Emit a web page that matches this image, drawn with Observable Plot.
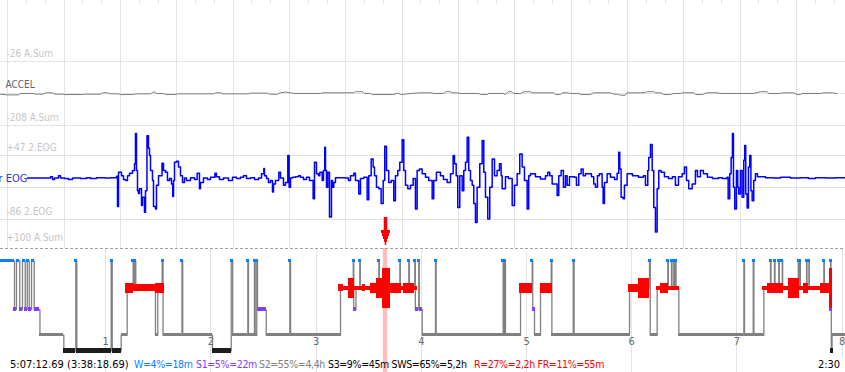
<!DOCTYPE html>
<html><head><meta charset="utf-8">
<script src="https://cdn.jsdelivr.net/npm/d3@7"></script>
<script src="https://cdn.jsdelivr.net/npm/@observablehq/plot@0.6"></script>
<style>
html,body{margin:0;padding:0;background:#fff;}
#root{position:relative;width:845px;height:372px;overflow:hidden;background:#fff;}
#root .layer{position:absolute;left:0;}
#root svg{display:block;overflow:visible;}
.st{position:absolute;top:357px;height:15px;line-height:15px;font-family:"DejaVu Sans Condensed","DejaVu Sans",sans-serif;font-stretch:condensed;font-size:10.5px;letter-spacing:-0.35px;white-space:pre;}
.st.first{font-size:11px;letter-spacing:0;}
</style></head><body><div id="root"></div><script>
// ---------------- data ----------------
const windowStart = {h: 3, m: 38, s: 18.69};   // start of displayed signal window
const windowSeconds = 150;                      // 2:30 window
const recordingHours = 8.032;                   // hypnogram span
const windowLabel = "2:30";

// ACCEL trace: [seconds into window, A.Sum]
const accel = [[0,-119],[1.2,-121],[3.2,-121],[3.6,-117],[5.9,-117],[6.2,-119],[7.5,-119],[8.0,-115],[9.2,-115],[9.6,-119],[11.0,-119],[11.4,-120],[14.7,-120],[15.1,-119],[17.8,-119],[18.1,-115],[19.0,-115],[19.5,-118],[20.9,-118],[21.3,-120],[23.6,-120],[24.0,-118],[26.6,-118],[27.3,-112],[27.7,-117],[28.9,-117],[29.3,-120],[31.1,-120],[31.4,-118],[37.8,-118],[38.2,-115],[39.1,-115],[39.4,-118],[44.0,-118],[44.4,-116],[47.4,-116],[47.7,-119],[49.2,-119],[49.7,-115],[50.6,-113],[51.5,-115],[52.0,-117],[56.8,-117],[57.2,-115],[62.7,-115],[63.0,-112],[64.3,-112],[64.6,-117],[65.7,-117],[66.0,-120],[69.8,-120],[70.5,-116],[71.0,-120],[71.5,-120],[72.1,-118],[74.6,-115],[76.6,-115],[76.9,-117],[78.7,-117],[79.0,-112],[79.9,-112],[80.2,-115],[81.1,-115],[81.4,-117],[84.9,-117],[85.2,-120],[86.4,-120],[86.7,-117],[89.3,-117],[89.6,-120],[90.2,-112],[90.8,-112],[91.1,-117],[92.3,-117],[92.9,-112],[94.1,-112],[94.4,-115],[98.2,-115],[98.5,-120],[99.4,-120],[99.7,-115],[100.6,-115],[101.2,-117],[102.7,-117],[103.0,-120],[104.7,-120],[105.3,-115],[108.3,-115],[108.9,-119],[109.5,-119],[110.1,-122],[110.9,-122],[111.2,-115],[114.2,-115],[114.8,-112],[116.0,-112],[116.3,-115],[117.2,-115],[117.7,-120],[118.9,-120],[119.5,-117],[120.7,-117],[121.0,-115],[123.1,-115],[123.4,-120],[124.6,-120],[125.4,-115],[127.2,-115],[127.8,-117],[133.7,-117],[134.9,-112],[136.1,-112],[136.4,-117],[138.5,-117],[138.8,-115],[140.8,-115],[141.4,-120],[142.0,-120],[142.3,-117],[145.6,-117],[146.1,-115],[147.9,-115],[148.2,-117],[148.5,-117]];

// EOG trace: [seconds into window, µV]
const eog = [[4.79,0],[8.52,0],[8.88,3],[9.23,-3],[9.59,0],[10.30,5],[10.65,0],[11.36,-1],[12.07,-3],[12.78,0],[14.20,-1],[15.27,1],[15.98,-1],[17.04,1],[18.46,0],[19.53,1],[20.59,4],[20.77,-59],[20.95,12],[21.48,5],[21.83,-3],[22.19,-5],[22.54,5],[22.90,10],[23.43,16],[23.79,30],[23.96,93],[24.14,16],[24.32,-26],[24.50,-32],[24.67,-22],[25.03,-57],[25.21,-40],[25.56,-71],[25.74,-26],[26.00,88],[26.27,62],[26.45,47],[26.63,16],[26.98,-5],[27.16,-59],[27.51,-64],[27.69,-15],[28.05,5],[28.67,31],[28.93,16],[29.29,12],[29.64,-5],[30.00,-1],[30.35,-12],[30.58,-38],[30.71,-5],[30.89,33],[31.24,35],[31.60,23],[31.95,5],[32.31,-9],[32.66,0],[33.02,-5],[33.73,1],[34.44,-3],[34.91,10],[35.32,-22],[35.50,-9],[36.03,0],[36.74,-3],[37.28,2],[38.07,10],[38.34,3],[38.87,-3],[39.58,0],[40.47,-5],[41.18,2],[41.89,-1],[42.60,2],[43.13,5],[43.67,-1],[44.38,1],[45.09,-3],[45.80,0],[46.33,9],[46.74,20],[46.86,5],[47.22,-1],[47.57,-9],[47.93,-5],[48.28,-29],[48.46,-12],[48.81,-5],[49.40,12],[49.70,0],[50.23,-15],[50.59,-9],[51.00,47],[51.24,-19],[51.48,0],[51.83,2],[52.36,3],[52.90,5],[53.25,2],[53.78,-3],[54.32,2],[54.85,-5],[55.50,-43],[55.74,33],[56.09,9],[56.45,5],[56.68,12],[57.10,-5],[57.33,16],[57.56,64],[57.69,16],[57.87,-19],[58.10,12],[58.40,-81],[58.75,-5],[58.93,-19],[59.16,-9],[59.46,1],[60.35,1],[61.24,0],[61.77,-5],[62.13,5],[62.71,10],[63.01,-5],[63.60,-33],[63.90,-1],[64.49,2],[65.09,-45],[65.37,5],[65.80,40],[66.15,23],[66.39,5],[66.74,-19],[67.15,-22],[67.57,-53],[67.93,-5],[68.21,66],[68.52,16],[68.92,-9],[69.35,-5],[69.81,-47],[70.11,5],[70.52,16],[70.88,33],[71.30,80],[71.59,16],[71.89,-15],[72.30,-22],[72.78,-15],[73.25,-1],[73.66,-64],[73.96,16],[74.37,19],[74.85,9],[75.44,2],[76.02,-5],[76.63,-43],[76.91,-5],[77.39,12],[78.10,5],[78.63,-3],[79.29,-9],[79.88,9],[80.35,47],[80.59,30],[80.89,5],[81.17,-61],[81.53,5],[81.95,-26],[82.24,16],[82.54,33],[82.84,85],[83.12,16],[83.43,-5],[83.73,-15],[84.01,-53],[84.31,-92],[84.61,-19],[85.08,30],[85.50,78],[85.79,12],[86.09,-40],[86.50,-85],[86.85,-19],[87.28,40],[87.69,5],[88.16,16],[88.57,30],[88.87,5],[89.05,-22],[89.64,3],[90.17,-1],[90.83,-57],[91.24,-15],[91.71,9],[92.18,50],[92.60,23],[93.01,-5],[93.49,-64],[93.77,5],[94.08,9],[94.96,3],[95.85,-2],[96.74,5],[97.15,12],[97.50,5],[97.93,-12],[98.81,-36],[99.10,5],[99.52,16],[99.93,-19],[100.29,5],[100.59,-15],[101.00,3],[101.89,2],[102.24,-15],[102.65,9],[103.07,19],[103.43,5],[103.84,9],[104.42,9],[104.90,3],[105.31,-12],[105.61,-19],[105.97,5],[106.32,9],[106.80,-19],[106.98,-53],[107.21,-9],[107.69,9],[108.28,2],[108.99,-3],[109.46,10],[109.75,54],[109.93,19],[110.17,-40],[110.53,-43],[110.76,-15],[111.24,9],[112.18,5],[113.25,2],[114.13,5],[114.49,-15],[114.90,16],[115.07,43],[115.38,70],[115.68,16],[115.96,-61],[116.26,-112],[116.56,-22],[116.85,16],[117.27,12],[117.86,3],[118.57,-1],[119.28,3],[119.81,-15],[120.35,3],[121.00,9],[121.41,23],[121.77,-5],[122.17,-22],[122.78,-12],[123.36,16],[123.72,3],[124.25,16],[124.78,9],[125.49,2],[126.38,-1],[127.45,1],[128.16,-1],[128.99,2],[129.17,-43],[129.45,9],[129.70,43],[129.93,93],[130.11,-19],[130.34,-64],[130.64,16],[130.87,-19],[131.05,-33],[131.35,16],[131.65,-40],[131.94,37],[132.11,68],[132.29,-33],[132.54,-62],[132.77,23],[133.00,47],[133.21,-26],[133.43,-47],[133.71,-5],[134.01,9],[134.37,3],[135.79,1],[137.21,0],[138.45,2],[140.23,0],[142.00,1],[143.42,-1],[144.66,1],[146.44,0],[148.21,1],[150,0]];

// Hypnogram: [hours since start, stage]
const hypnogram = [[0,"W"],[0.133,"S1"],[0.152,"W"],[0.183,"S1"],[0.209,"W"],[0.235,"S1"],[0.254,"W"],[0.273,"S1"],[0.295,"W"],[0.320,"S1"],[0.375,"S2"],[0.602,"S3"],[0.716,"W"],[0.725,"S3"],[1.052,"W"],[1.062,"S3"],[1.147,"S2"],[1.204,"R"],[1.261,"W"],[1.267,"R"],[1.280,"W"],[1.286,"R"],[1.473,"S2"],[1.495,"R"],[1.537,"W"],[1.545,"S2"],[1.725,"W"],[1.732,"S2"],[2.015,"S3"],[2.193,"W"],[2.207,"S2"],[2.351,"W"],[2.357,"S2"],[2.414,"W"],[2.421,"S2"],[2.436,"W"],[2.443,"S1"],[2.526,"S2"],[2.750,"W"],[2.757,"S2"],[3.232,"R"],[3.353,"W"],[3.358,"S1"],[3.379,"R"],[3.415,"W"],[3.420,"R"],[3.596,"W"],[3.601,"R"],[3.796,"W"],[3.800,"R"],[3.881,"W"],[3.886,"R"],[3.938,"W"],[3.943,"S1"],[3.976,"W"],[3.981,"S1"],[4.009,"S2"],[4.135,"W"],[4.141,"S2"],[4.778,"W"],[4.784,"S2"],[4.794,"W"],[4.800,"S2"],[4.943,"R"],[5.054,"W"],[5.059,"S1"],[5.076,"S2"],[5.133,"R"],[5.235,"W"],[5.241,"S2"],[5.444,"W"],[5.452,"S2"],[5.979,"R"],[6.169,"W"],[6.176,"S2"],[6.242,"R"],[6.343,"W"],[6.348,"R"],[6.378,"W"],[6.383,"R"],[6.400,"W"],[6.405,"R"],[6.416,"W"],[6.421,"R"],[6.448,"S2"],[7.066,"W"],[7.072,"S2"],[7.155,"W"],[7.161,"S2"],[7.256,"R"],[7.319,"W"],[7.324,"R"],[7.357,"W"],[7.362,"R"],[7.398,"W"],[7.403,"R"],[7.431,"W"],[7.435,"R"],[7.583,"W"],[7.588,"R"],[7.598,"W"],[7.603,"R"],[7.662,"W"],[7.666,"R"],[7.684,"W"],[7.688,"R"],[7.826,"W"],[7.831,"R"],[7.890,"W"],[7.894,"S1"],[7.897,"S3"],[7.904,"S2"]];

// REM eye-movement density: [from h, to h, density]
const remDensity = [[1.188,1.264,2.5],[1.264,1.473,1.8],[1.473,1.559,2.5],[3.210,3.263,1.8],[3.263,3.305,1],[3.305,3.368,5],[3.368,3.438,1],[3.438,3.470,1.8],[3.470,3.517,1],[3.517,3.574,2.5],[3.574,3.628,5],[3.628,3.707,10],[3.707,3.809,2.5],[3.809,3.834,1],[3.834,3.935,2.5],[3.935,3.961,1],[4.936,5.060,2.5],[5.133,5.244,2.5],[5.973,6.068,2],[6.068,6.172,5],[6.236,6.274,1],[6.274,6.353,2.5],[6.353,6.457,1],[7.241,7.288,1],[7.288,7.446,2.5],[7.446,7.493,1],[7.493,7.598,5],[7.598,7.636,1],[7.636,7.684,2.5],[7.684,7.795,1],[7.795,7.883,2.5],[7.883,7.906,10]];

const hourTicks = [1,2,3,4,5,6,7,8];
const accelTicks = [-26, -208];
const eogTicks = [47, -86];
const statusTexts = ["5:07:12.69 (3:38:18.69)", "W=4%=18m", "S1=5%=22m", "S2=55%=4,4h", "S3=9%=45m SWS=65%=5,2h", "R=27%=2,2h FR=11%=55m"];

// ---------------- layout / style ----------------
const W = 845;
const font = '"DejaVu Sans Condensed","DejaVu Sans",sans-serif';
const grid = "#e3e3e3";
const labelGray = "#c6c6c6";
const stageColor = {W: "#0a80ff", R: "#ff0000", S1: "#7f40ff", S2: "#808080", S3: "#1c1c1c"};
const statusColors = ["#000", stageColor.W, stageColor.S1, "#808080", "#000", "#ff0000"];
const statusLeft = [10, 134, 196, 259, 328, 474];

const ws = windowStart.h * 3600 + windowStart.m * 60 + windowStart.s;
const we = ws + windowSeconds;
const majors = d3.range(Math.ceil(ws / 10) * 10, we, 10);
const minors = majors.flatMap(m => [m + 10 / 3, m + 20 / 3]).filter(t => t < we);
const crisp = {shapeRendering: "crispEdges"};
const root = document.getElementById("root");
function place(el, top) { const d = document.createElement("div"); d.className = "layer"; d.style.top = top + "px"; d.appendChild(el); root.appendChild(d); }

// ACCEL panel (0..126)
const accelPlot = Plot.plot({
  width: W, height: 126, margin: 0,
  x: {domain: [ws, we], axis: null},
  y: {domain: [-210.9, 147.5], axis: null},
  style: {fontFamily: font, fontSize: "10px", background: "transparent"},
  marks: [
    Plot.ruleX(majors, {stroke: grid, ...crisp}),
    Plot.ruleX(minors, {stroke: grid, insetBottom: 122, ...crisp}),
    Plot.ruleY([-26, -117, -208], {stroke: grid, ...crisp}),
    Plot.text(accelTicks, {x: () => ws, y: d => d, text: d => `${d} A.Sum`, textAnchor: "start", dx: 6, dy: -8, fill: labelGray}),
    Plot.line(accel, {x: d => ws + d[0], y: d => d[1], stroke: "#7c7c7c", strokeWidth: 1}),
    Plot.text(["ACCEL"], {x: () => ws, y: () => -117, text: d => d, textAnchor: "start", dx: 5, dy: -9, fill: "#5a6372"})
  ]
});
place(accelPlot, 0);

// EOG panel (126..248)
const eogPlot = Plot.plot({
  width: W, height: 122, margin: 0,
  x: {domain: [ws, we], axis: null},
  y: {domain: [-146.3, 107.3], axis: null},
  style: {fontFamily: font, fontSize: "10px", background: "transparent"},
  marks: [
    Plot.ruleX(majors, {stroke: grid, ...crisp}),
    Plot.ruleY([47, -19.5, -86], {stroke: grid, ...crisp}),
    Plot.text(eogTicks, {x: () => ws, y: d => d, text: d => `${d > 0 ? "+" : ""}${d} 2.EOG`, textAnchor: "start", dx: 6, dy: -8, fill: labelGray}),
    Plot.text(["+100 A.Sum"], {x: () => ws, frameAnchor: "bottom", text: d => d, textAnchor: "start", dx: 6, dy: -8, fill: labelGray}),
    Plot.line(eog, {x: d => ws + d[0], y: d => d[1], curve: "step-after", stroke: "#0000ff", strokeWidth: 1.5}),
    Plot.text(["r EOG"], {x: () => ws, y: () => 0, text: d => d, textAnchor: "start", dx: -2, fill: "#1f3fd8", fontSize: 11})
  ]
});
place(eogPlot, 126);

// Hypnogram panel (frame 248..372, top margin holds the cursor arrow)
const mt = 34, hh = 158;
const pxPerHour = W / recordingHours;
const depth = {W: 0, R: 1, S1: 1.8, S2: 2.75, S3: 3.33};
const pxPerDepth = 27;
const d0 = -12.5 / pxPerDepth, d1 = d0 + (hh - mt) / pxPerDepth;
const segs = hypnogram.map((d, i) => ({x1: d[0], x2: i + 1 < hypnogram.length ? hypnogram[i + 1][0] : recordingHours, stage: d[1]}));
function widen(s, minPx) { const w = minPx / pxPerHour; if (s.x2 - s.x1 >= w) return s; const m = (s.x1 + s.x2) / 2; return {...s, x1: m - w / 2, x2: m + w / 2}; }
const thick = {W: 3.5, S1: 4, S2: 2.7, S3: 4.5};
const stageBars = st => Plot.rect(segs.filter(s => s.stage === st).map(s => widen(s, 3)), {
  x1: "x1", x2: "x2", y1: () => depth[st] - thick[st] / 2 / pxPerDepth, y2: () => depth[st] + thick[st] / 2 / pxPerDepth,
  fill: stageColor[st], ...crisp
});
const stepPts = hypnogram.map(d => ({t: d[0], v: depth[d[1]]})).concat([{t: recordingHours, v: depth[hypnogram[hypnogram.length - 1][1]]}]);
const winStartH = ws / 3600, winEndH = we / 3600, winMid = (winStartH + winEndH) / 2;
const arrowRows = [[3, 16, 3.5], [16, 19, 9], [19, 22, 7], [22, 25, 5], [25, 28, 3], [28, 31, 1.5]];

const hypPlot = Plot.plot({
  width: W, height: hh, marginTop: mt, marginLeft: 0, marginRight: 0, marginBottom: 0,
  x: {domain: [0, recordingHours], axis: null},
  y: {domain: [d0, d1], range: [mt, hh], axis: null},
  style: {fontFamily: font, fontSize: "11px", background: "transparent"},
  marks: [
    Plot.ruleX(hourTicks, {stroke: grid, ...crisp}),
    Plot.rect([[winStartH, winEndH]], {x1: d => d[0], x2: d => d[1], fill: "#ffbcbc"}),
    Plot.ruleY([d0], {stroke: "#a0a0a0", strokeDasharray: "3,2", ...crisp}),
    stageBars("S2"),
    Plot.line(stepPts, {x: "t", y: "v", curve: "step-after", stroke: "#808080", strokeWidth: 1.3}),
    stageBars("S3"),
    stageBars("S1"),
    Plot.rect(remDensity, {x1: d => d[0], x2: d => d[1], y1: d => depth.R - d[2] * 2 / pxPerDepth, y2: d => depth.R + d[2] * 2 / pxPerDepth, fill: stageColor.R, ...crisp}),
    stageBars("W"),
    Plot.text(hourTicks, {x: d => d, frameAnchor: "bottom", dy: -28, text: d => String(d), fill: "#6a6a6a"}),
    ...arrowRows.map(([a, b, w]) => Plot.ruleX([winMid], {stroke: "#ff0000", strokeWidth: w, insetTop: a - mt, insetBottom: hh - b}))
  ]
});
place(hypPlot, 214);

// status line
statusTexts.forEach((t, i) => {
  const s = document.createElement("div");
  s.className = i === 0 ? "st first" : "st"; s.textContent = t; s.style.left = statusLeft[i] + "px"; s.style.color = statusColors[i];
  root.appendChild(s);
});
const wl = document.createElement("div");
wl.className = "st first"; wl.textContent = windowLabel;
Object.assign(wl.style, {left: "813px", width: "32px", background: "#fff", textAlign: "center", color: "#000"});
root.appendChild(wl);
</script></body></html>
